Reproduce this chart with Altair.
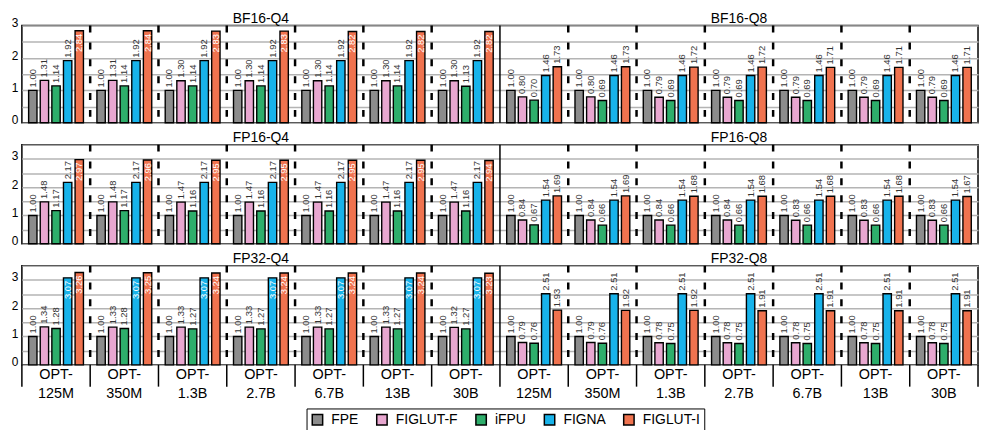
import altair as alt
import pandas as pd

MODELS = ["OPT-125M", "OPT-350M", "OPT-1.3B", "OPT-2.7B", "OPT-6.7B", "OPT-13B", "OPT-30B"]
QUANTS = ["Q4", "Q8"]
METHODS = ["FPE", "FIGLUT-F", "iFPU", "FIGNA", "FIGLUT-I"]
COLORS = ["#8c8c8c", "#e8a7d0", "#2eae6b", "#18b3ea", "#f0734f"]
PRECISIONS = ["BF16", "FP16", "FP32"]
Y_MAX = {"BF16": 3.0, "FP16": 3.5, "FP32": 3.5}

BF16_Q4 = {
    "FPE":      [1.00, 1.00, 1.00, 1.00, 1.00, 1.00, 1.00],
    "FIGLUT-F": [1.31, 1.31, 1.30, 1.30, 1.30, 1.30, 1.30],
    "iFPU":     [1.14, 1.14, 1.14, 1.14, 1.14, 1.14, 1.13],
    "FIGNA":    [1.92, 1.92, 1.92, 1.92, 1.92, 1.92, 1.92],
    "FIGLUT-I": [2.84, 2.84, 2.83, 2.83, 2.82, 2.82, 2.82],
}
BF16_Q8 = {
    "FPE":      [1.00, 1.00, 1.00, 1.00, 1.00, 1.00, 1.00],
    "FIGLUT-F": [0.80, 0.80, 0.79, 0.79, 0.79, 0.79, 0.79],
    "iFPU":     [0.70, 0.69, 0.69, 0.69, 0.69, 0.69, 0.69],
    "FIGNA":    [1.46, 1.46, 1.46, 1.46, 1.46, 1.46, 1.46],
    "FIGLUT-I": [1.73, 1.73, 1.72, 1.72, 1.71, 1.71, 1.71],
}
FP16_Q4 = {
    "FPE":      [1.00, 1.00, 1.00, 1.00, 1.00, 1.00, 1.00],
    "FIGLUT-F": [1.48, 1.48, 1.47, 1.47, 1.47, 1.47, 1.47],
    "iFPU":     [1.17, 1.17, 1.16, 1.16, 1.16, 1.16, 1.16],
    "FIGNA":    [2.17, 2.17, 2.17, 2.17, 2.17, 2.17, 2.17],
    "FIGLUT-I": [2.97, 2.96, 2.95, 2.95, 2.95, 2.95, 2.94],
}
FP16_Q8 = {
    "FPE":      [1.00, 1.00, 1.00, 1.00, 1.00, 1.00, 1.00],
    "FIGLUT-F": [0.84, 0.84, 0.84, 0.84, 0.83, 0.83, 0.83],
    "iFPU":     [0.67, 0.66, 0.66, 0.66, 0.66, 0.66, 0.66],
    "FIGNA":    [1.54, 1.54, 1.54, 1.54, 1.54, 1.54, 1.54],
    "FIGLUT-I": [1.69, 1.69, 1.68, 1.68, 1.68, 1.68, 1.67],
}
FP32_Q4 = {
    "FPE":      [1.00, 1.00, 1.00, 1.00, 1.00, 1.00, 1.00],
    "FIGLUT-F": [1.34, 1.33, 1.33, 1.33, 1.33, 1.33, 1.32],
    "iFPU":     [1.28, 1.28, 1.27, 1.27, 1.27, 1.27, 1.27],
    "FIGNA":    [3.07, 3.07, 3.07, 3.07, 3.07, 3.07, 3.07],
    "FIGLUT-I": [3.26, 3.25, 3.24, 3.24, 3.24, 3.24, 3.23],
}
FP32_Q8 = {
    "FPE":      [1.00, 1.00, 1.00, 1.00, 1.00, 1.00, 1.00],
    "FIGLUT-F": [0.79, 0.79, 0.78, 0.78, 0.78, 0.78, 0.78],
    "iFPU":     [0.76, 0.76, 0.75, 0.75, 0.75, 0.75, 0.75],
    "FIGNA":    [2.51, 2.51, 2.51, 2.51, 2.51, 2.51, 2.51],
    "FIGLUT-I": [1.93, 1.92, 1.92, 1.91, 1.91, 1.91, 1.91],
}
PANELS = {
    ("BF16", "Q4"): BF16_Q4, ("BF16", "Q8"): BF16_Q8,
    ("FP16", "Q4"): FP16_Q4, ("FP16", "Q8"): FP16_Q8,
    ("FP32", "Q4"): FP32_Q4, ("FP32", "Q8"): FP32_Q8,
}

KEYS = [f"{q}|{m}" for q in QUANTS for m in MODELS]
SEP_KEYS = [f"{q}|{m}" for q in QUANTS for m in MODELS[1:]]

records = []
for (prec, q), table in PANELS.items():
    for meth in METHODS:
        for m, v in zip(MODELS, table[meth]):
            records.append({"precision": prec, "key": f"{q}|{m}", "method": meth, "value": v})
df = pd.DataFrame(records)

W = 964
HEIGHTS = {"BF16": 98, "FP16": 100, "FP32": 100}
FONT = "Liberation Sans, Arial, sans-serif"


def make_row(prec, bottom):
    ymax = Y_MAX[prec]
    H = HEIGHTS[prec]
    d = df[df.precision == prec]
    if bottom:
        xaxis = alt.Axis(title=None, labelExpr="['OPT-', split(datum.value, 'OPT-')[1]]",
                         labelAngle=0, ticks=False, domain=False, labelFontSize=14.5,
                         labelPadding=3, labelLineHeight=19, labelColor="black", labelFont=FONT)
    else:
        xaxis = None
    sc = alt.Scale(domain=KEYS, paddingInner=0, paddingOuter=0)
    xenc = alt.X("key:N", scale=sc, axis=xaxis)
    xedge = alt.X("key:N", scale=sc, axis=xaxis, bandPosition=0)
    xoff = alt.XOffset("method:N", scale=alt.Scale(domain=METHODS, paddingInner=0.28, paddingOuter=0.58))
    yvals = [i * 0.5 for i in range(int(ymax * 2) + 1)]
    yenc = alt.Y("value:Q", scale=alt.Scale(domain=[0, ymax], nice=False, zero=True),
                 axis=alt.Axis(title=None, values=yvals, ticks=False, domain=False,
                               labelExpr="datum.value % 1 == 0 ? format(datum.value, 'd') : ''",
                               grid=True, gridColor="#b4b4b4", gridWidth=1.5,
                               labelFontSize=12, labelPadding=4, labelColor="black",
                               labelFont=FONT, labelOffset=-3))
    base = alt.Chart(d)
    bars = base.mark_bar(stroke="black", strokeWidth=1.4).encode(
        x=xenc, xOffset=xoff, y=yenc,
        color=alt.Color("method:N", scale=alt.Scale(domain=METHODS, range=COLORS),
                        legend=alt.Legend(title=None, orient="none", direction="horizontal",
                                          legendX=287, legendY=386,
                                          strokeColor="black", padding=4,
                                          symbolType="square", symbolSize=110,
                                          symbolStrokeColor="black", symbolStrokeWidth=1.5,
                                          symbolOpacity=1, labelFontSize=14, labelFont=FONT,
                                          labelColor="black", columnPadding=14, labelOffset=7)),
    )
    thr = ymax - 0.6
    lab_out = base.transform_filter(f"datum.value <= {thr}").mark_text(
        angle=270, align="left", baseline="middle", dx=3, fontSize=9.5, font=FONT, color="#333333"
    ).encode(x=xenc, xOffset=xoff, y=yenc, text=alt.Text("value:Q", format=".2f"))
    lab_in = base.transform_filter(f"datum.value > {thr}").mark_text(
        angle=270, align="right", baseline="middle", dx=-3, fontSize=9.5, font=FONT, color="white"
    ).encode(x=xenc, xOffset=xoff, y=yenc, text=alt.Text("value:Q", format=".2f"))

    dashes = alt.Chart(pd.DataFrame({"key": SEP_KEYS})).mark_rule(
        color="black", strokeWidth=2.5, strokeDash=[7, 10], strokeCap="butt"
    ).encode(x=xedge, y=alt.value(0), y2=alt.value(H))
    mid = alt.Chart(pd.DataFrame({"key": ["Q8|OPT-125M"]})).mark_rule(
        color="black", strokeWidth=1.5
    ).encode(x=xedge, y=alt.value(0), y2=alt.value(H))
    titles = alt.Chart(pd.DataFrame({"key": ["Q4|OPT-2.7B", "Q8|OPT-2.7B"],
                                     "label": [f"{prec}-Q4", f"{prec}-Q8"]})).mark_text(
        baseline="alphabetic", fontSize=14, font=FONT, color="black"
    ).encode(x=xenc, y=alt.value(-3), text="label:N")

    layers = [bars, lab_out, lab_in, dashes, mid, titles]
    if bottom:
        below = alt.Chart(pd.DataFrame({"key": KEYS})).mark_rule(
            color="black", strokeWidth=1.5
        ).encode(x=xedge, y=alt.value(H), y2=alt.value(H + 22))
        end = alt.Chart(pd.DataFrame({"key": ["end"]})).mark_rule(
            color="black", strokeWidth=1.5
        ).encode(x=alt.value(W), y=alt.value(H), y2=alt.value(H + 22))
        layers += [below, end]
    return alt.layer(*layers).properties(width=W, height=H)


chart = alt.vconcat(
    make_row("BF16", False),
    make_row("FP16", False),
    make_row("FP32", True),
    spacing=22, bounds="flush",
).resolve_scale(y="independent", color="shared").configure(
    font=FONT
).configure_view(
    stroke="black", strokeWidth=1.5
).properties(padding={"left": 2, "top": 1, "right": 0, "bottom": 0})

chart.save("out.html", embed_options={"renderer": "svg", "actions": False})
